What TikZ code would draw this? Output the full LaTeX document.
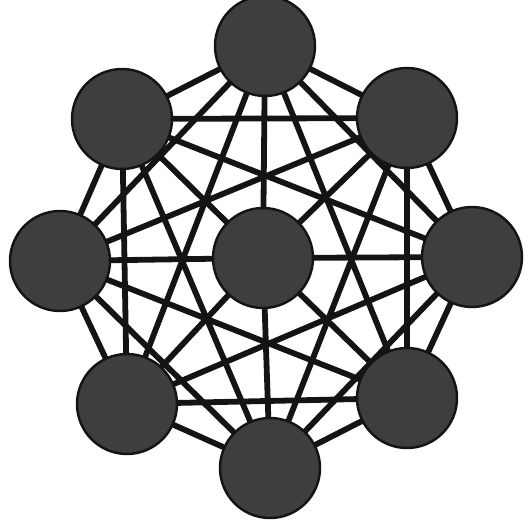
\documentclass[tikz,border=0pt]{standalone}
\usepackage{xcolor}
\usepackage{tikz}
\usetikzlibrary{positioning, backgrounds}
\definecolor{mydark}{RGB}{20,20,20}
\definecolor{mygrey}{RGB}{62,62,62}
\tikzset{
  station/.style={circle, draw=mydark, fill=mygrey, minimum size=2cm,
    inner sep=0pt, line width=1.4pt},
  link/.style={line width=3.3pt, color=mydark, line cap=round, line join=round}
}

\begin{document}
\begin{tikzpicture}[x=0.02cm, y=-0.02cm]
  \useasboundingbox (0,0) rectangle (525,530);

  \node[station] (t)   at (265,46)  {};
  \node[station] (tr)  at (407,118) {};
  \node[station] (r)   at (472,257) {};
  \node[station] (br)  at (407,398) {};
  \node[station] (b)   at (270,468) {};
  \node[station] (bl)  at (127,404) {};
  \node[station] (l)   at (60,261)  {};
  \node[station] (tl)  at (122,119) {};
  \node[station] (hub) at (263,258) {};

  \begin{scope}[on background layer]
    % ring
    \draw[link] (t) -- (tr) -- (r) -- (br) -- (b) -- (bl) -- (l) -- (tl) -- (t);
    % squares
    \draw[link] (t) -- (r) -- (b) -- (l) -- (t);
    \draw[link] (tr) -- (br) -- (bl) -- (tl) -- (tr);
    % star
    \draw[link] (t) -- (br) -- (l) -- (tr) -- (b) -- (tl) -- (r) -- (bl) -- (t);
    % spokes
    \draw[link] (hub) -- (t)  (hub) -- (tr) (hub) -- (r)  (hub) -- (br)
                (hub) -- (b)  (hub) -- (bl) (hub) -- (l)  (hub) -- (tl);
  \end{scope}

\end{tikzpicture}
\end{document}
